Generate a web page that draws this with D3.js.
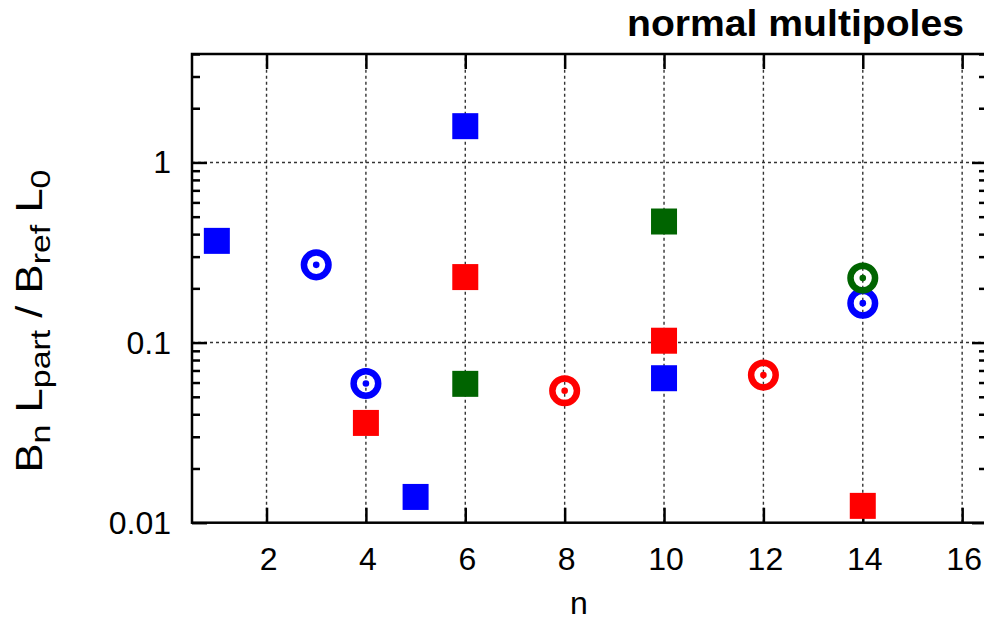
<!DOCTYPE html>
<html lang="en">
<head>
<meta charset="utf-8">
<title>normal multipoles</title>
<script src="https://d3js.org/d3.v7.min.js"></script>
<style>
  body { margin: 0; background: #fff; }
  svg text { font-family: "Liberation Sans", Arial, Helvetica, sans-serif; fill: #000; }
  .tick-label { font-size: 32px; }
  .title { font-size: 36px; font-weight: bold; }
  .grid { stroke: #333; stroke-width: 1.4; stroke-dasharray: 3,3; fill: none; }
</style>
</head>
<body>
<div id="vis"></div>
<script>
// data (n, Bn Lpart / Bref L0)
const blueSquares  = [[1, 0.367], [5, 0.0139], [6, 1.59], [10, 0.0634]];
const redSquares   = [[4, 0.0358], [6, 0.231], [10, 0.1024], [14, 0.0124]];
const greenSquares = [[6, 0.059], [10, 0.47]];
const blueCircles  = [[3, 0.27], [4, 0.0593], [14, 0.1655]];
const redCircles   = [[8, 0.054], [12, 0.066]];
const greenCircles = [[14, 0.228]];

const xTicks = [2, 4, 6, 8, 10, 12, 14, 16];
const yTicks = [0.01, 0.1, 1];
const yTickLabels = ["0.01", "0.1", "1"];

const width = 984, height = 621;
const margin = {top: 54, right: -3, bottom: 98, left: 192};

const svg = d3.select("#vis").append("svg")
  .attr("width", width)
  .attr("height", height);

const x = d3.scaleLinear()
  .domain([0.5, 16.5])
  .range([margin.left, width - margin.right]);

const y = d3.scaleLog()
  .domain([0.01, 4])
  .range([height - margin.bottom - 0.3, margin.top]);

const x0 = x.range()[0], x1 = x.range()[1];
const y0 = y.range()[0], y1 = y.range()[1];

// minor ticks for the log axis
const yMinor = [];
[0.01, 0.1, 1].forEach(d => { for (let k = 2; k <= 9; k++) if (d * k <= 4) yMinor.push(d * k); });

// grid
svg.append("g").selectAll("line")
  .data(xTicks).join("line")
  .attr("class", "grid")
  .attr("x1", d => x(d)).attr("x2", d => x(d))
  .attr("y1", y0).attr("y2", y1);
svg.append("g").selectAll("line")
  .data([0.1, 1]).join("line")
  .attr("class", "grid")
  .attr("x1", x0).attr("x2", x1)
  .attr("y1", d => y(d)).attr("y2", d => y(d));

// axes, ticks pointing inward on all four sides
const bottomAxis = d3.axisTop(x).tickValues(xTicks).tickSize(15).tickFormat("");
const topAxis = d3.axisBottom(x).tickValues(xTicks).tickSize(15).tickFormat("");
svg.append("g").attr("transform", `translate(0,${y0})`).call(bottomAxis);
svg.append("g").attr("transform", `translate(0,${y1})`).call(topAxis);

const leftMajor = d3.axisRight(y).tickValues(yTicks).tickSize(15).tickFormat("");
const leftMinor = d3.axisRight(y).tickValues(yMinor).tickSize(8).tickFormat("");
const rightMajor = d3.axisLeft(y).tickValues(yTicks).tickSize(15).tickFormat("");
const rightMinor = d3.axisLeft(y).tickValues(yMinor).tickSize(8).tickFormat("");
svg.append("g").attr("transform", `translate(${x0},0)`).call(leftMajor);
svg.append("g").attr("transform", `translate(${x0},0)`).call(leftMinor);
svg.append("g").attr("transform", `translate(${x1},0)`).call(rightMajor);
svg.append("g").attr("transform", `translate(${x1},0)`).call(rightMinor);

svg.selectAll(".domain").remove();
svg.selectAll(".tick line").attr("stroke", "#000").attr("stroke-width", 2.5);

// frame
svg.append("rect")
  .attr("x", x0).attr("y", y1)
  .attr("width", x1 - x0).attr("height", y0 - y1)
  .attr("fill", "none").attr("stroke", "#000").attr("stroke-width", 2.5);

// tick labels
svg.append("g").selectAll("text")
  .data(xTicks).join("text")
  .attr("class", "tick-label")
  .attr("x", d => x(d) + 2).attr("y", 570)
  .attr("text-anchor", "middle")
  .text(d => d);
svg.append("g").selectAll("text")
  .data(yTicks).join("text")
  .attr("class", "tick-label")
  .attr("x", 171).attr("y", d => y(d) + 11)
  .attr("text-anchor", "end")
  .text((d, i) => yTickLabels[i]);

// axis titles
svg.append("text")
  .attr("class", "tick-label")
  .attr("x", 579).attr("y", 614)
  .attr("text-anchor", "middle")
  .text("n");

const yl = svg.append("text")
  .attr("transform", `translate(42,321) rotate(-90)`)
  .attr("text-anchor", "middle")
  .attr("textLength", 303)
  .attr("lengthAdjust", "spacingAndGlyphs")
  .style("font-size", "36px");
yl.append("tspan").text("B");
yl.append("tspan").attr("dy", 8).style("font-size", "28px").text("n");
yl.append("tspan").attr("dy", -8).text(" L");
yl.append("tspan").attr("dy", 8).style("font-size", "28px").text("part");
yl.append("tspan").attr("dy", -8).text(" / B");
yl.append("tspan").attr("dy", 8).style("font-size", "28px").text("ref");
yl.append("tspan").attr("dy", -8).text(" L");
yl.append("tspan").attr("dy", 8).style("font-size", "28px").text("0");

svg.append("text")
  .attr("class", "title")
  .attr("x", 964).attr("y", 36)
  .attr("text-anchor", "end")
  .attr("textLength", 337)
  .attr("lengthAdjust", "spacingAndGlyphs")
  .text("normal multipoles");

// markers
const side = 26;
function squares(data, color) {
  svg.append("g").selectAll("rect")
    .data(data).join("rect")
    .attr("x", d => x(d[0]) - side / 2)
    .attr("y", d => y(d[1]) - side / 2)
    .attr("width", side).attr("height", side)
    .attr("fill", color);
}
function circles(data, color) {
  const g = svg.append("g").selectAll("g")
    .data(data).join("g")
    .attr("transform", d => `translate(${x(d[0])},${y(d[1])})`);
  g.append("circle").attr("r", 12.3)
    .attr("fill", "none").attr("stroke", color).attr("stroke-width", 6.5);
  g.append("circle").attr("r", 3.3).attr("fill", color);
}

squares(blueSquares, "#0000ff");
squares(redSquares, "#ff0000");
squares(greenSquares, "#006400");
circles(blueCircles, "#0000ff");
circles(redCircles, "#ff0000");
circles(greenCircles, "#006400");
</script>
</body>
</html>
